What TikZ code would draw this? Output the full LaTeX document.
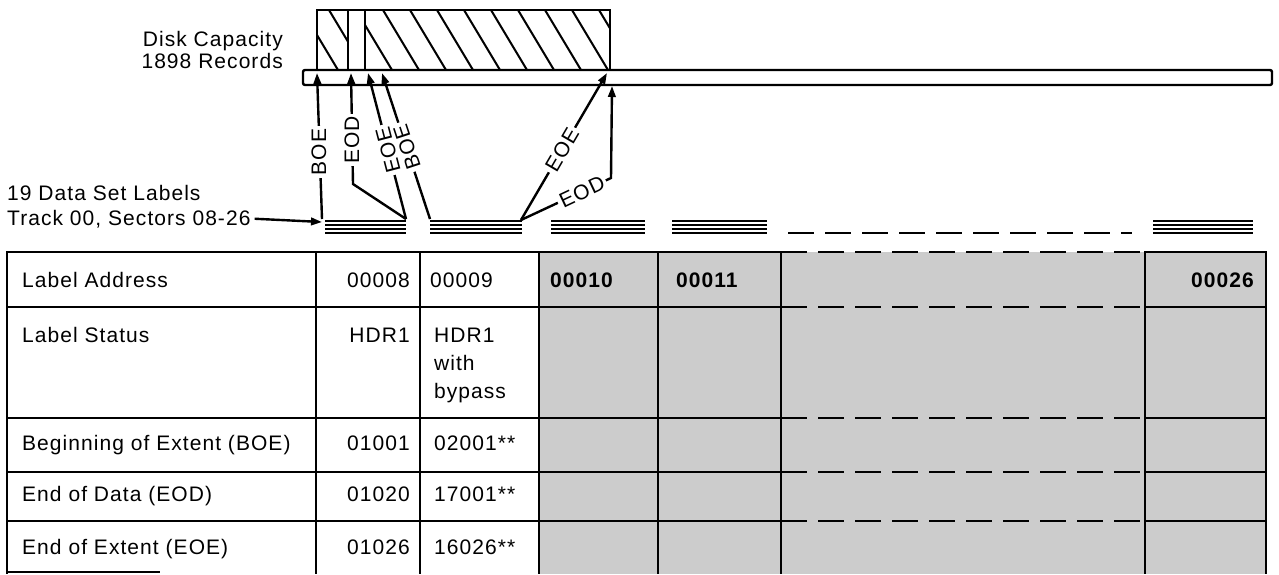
\documentclass[tikz,border=0pt]{standalone}
\usepackage{fontspec}
\setmainfont{Liberation Sans}
\newfontfamily\lab[LetterSpace=5]{Liberation Sans}
\usetikzlibrary{arrows.meta}
\begin{document}
\begin{tikzpicture}[x=1pt,y=-1pt,
  txt/.style={font=\lab\fontsize{21}{25}\selectfont, inner sep=0pt},
  btxt/.style={font=\lab\bfseries\fontsize{21}{25}\selectfont, inner sep=0pt},
  conn/.style={line width=2.4pt,-{Triangle[length=11pt,width=7.5pt]}},
  arrlbl/.style={font=\lab\fontsize{21}{25}\selectfont, fill=white, inner sep=2.5pt},
  stackline/.style={line width=1.8pt},
  tline/.style={line width=2pt},
  heavy/.style={line width=2.7pt},
  gapdash/.style={line width=2.3pt, dash pattern=on 26pt off 11pt},
]
\useasboundingbox (0,0) rectangle (1279,574);

% ---------- hatched capacity box ----------
\begin{scope}
  \clip (317,10) rectangle (348,70) (365,10) rectangle (610,70);
  \foreach \k in {-4,...,9} \draw[line width=2pt] ({383+27*\k},10) -- ({383+27*\k+36},70);
\end{scope}
\draw[line width=2.4pt] (317,70) -- (317,10) -- (610,10) -- (610,70);
\draw[line width=2.2pt] (348,10) -- (348,70) (365,10) -- (365,70);

% ---------- disk bar ----------
\draw[line width=2.4pt, rounded corners=2pt, fill=white] (303,70) rectangle (1272,85);

% ---------- label stacks ----------
\foreach \a/\b in {325/406, 430/522, 551/645, 672/767, 1153/1253} {
  \foreach \yy in {221,225,229,233} \draw[stackline] (\a,\yy) -- (\b,\yy);
}
\draw[gapdash] (788,233) -- (1132,233);

\coordinate (e1) at (322,219);
\coordinate (e2) at (406,219);
\coordinate (e3) at (430,219);
\coordinate (e4) at (521,220);
\coordinate (s1tip) at (322,222);
\coordinate (b1) at (317,73);
\coordinate (b2) at (351,73);
\coordinate (b3) at (368,73);
\coordinate (b4) at (382,73);
\coordinate (b5) at (607,73);
\coordinate (b6) at (612,86);
\coordinate (k1) at (353,184);
\coordinate (k2) at (611,178);

% ---------- texts at left ----------
\node[txt, anchor=base east] (disk) at (283,46) {Disk Capacity};
\node[txt, anchor=base east] (recs) at (283,68) {1898 Records};
\node[txt, anchor=base west] (dsl) at (7,200) {19 Data Set Labels};
\node[txt, anchor=base west] (trk) at (7,225) {Track 00, Sectors 08-26};

% ---------- connectors ----------
\draw[conn] ([xshift=4pt]trk.east) -- (s1tip);
\draw[conn] (e1) -- (b1);
\draw[conn] (e2) -- (k1) -- (b2);
\draw[conn] (e2) -- (b3);
\draw[conn] (e3) -- (b4);
\draw[conn] (e4) -- (b5);
\draw[conn] (e4) -- (k2) -- (b6);

\node[arrlbl, rotate=90] (lb1) at (319,152) {BOE};
\node[arrlbl, rotate=90] (lb2) at (352,140) {EOD};
\node[arrlbl, rotate=104.6] (lb3) at (388,150) {EOE};
\node[arrlbl, rotate=108.2] (lb4) at (407,147) {BOE};
\node[arrlbl, rotate=59.7] (lb5) at (562,150) {EOE};
\node[arrlbl, rotate=25.3] (lb6) at (582,192) {EOD};

% ---------- table ----------
\fill[black!20] (539,252) rectangle (1266,574);
\foreach \yy in {252,307,418,472,521} {
  \draw[tline] (7,\yy) -- (781,\yy);
  \draw[tline] (1145,\yy) -- (1266,\yy);
  \draw[gapdash] (781,\yy) -- (1145,\yy);
}
\draw[heavy] (7,251) -- (7,574);
\foreach \xx in {316,420,539,658} \draw[tline] (\xx,252) -- (\xx,574);
\foreach \xx in {781,1145,1266} \draw[heavy] (\xx,251) -- (\xx,574);
\draw[tline] (7,572) -- (160,572);

% row 1
\node[txt, anchor=base west] (r1a) at (22,287.5) {Label Address};
\node[txt, anchor=base east] (r1b) at (410,287.5) {00008};
\node[txt, anchor=base west] (r1c) at (430,287.5) {00009};
\node[btxt, anchor=base west] (r1d) at (550,287.5) {00010};
\node[btxt, anchor=base west] (r1e) at (676,287.5) {00011};
\node[btxt, anchor=base east] (r1f) at (1254,287.5) {00026};
% row 2
\node[txt, anchor=base west] (r2a) at (22,342.5) {Label Status};
\node[txt, anchor=base east] (r2b) at (410,342.5) {HDR1};
\node[txt, anchor=base west] (r2c) at (434,342.5) {HDR1};
\node[txt, anchor=base west] (r2d) at (434,370.5) {with};
\node[txt, anchor=base west] (r2e) at (434,398.5) {bypass};
% row 3
\node[txt, anchor=base west] (r3a) at (22,450) {Beginning of Extent (BOE)};
\node[txt, anchor=base east] (r3b) at (410,450) {01001};
\node[txt, anchor=base west] (r3c) at (434,450) {02001**};
% row 4
\node[txt, anchor=base west] (r4a) at (22,501.5) {End of Data (EOD)};
\node[txt, anchor=base east] (r4b) at (410,501.5) {01020};
\node[txt, anchor=base west] (r4c) at (434,501.5) {17001**};
% row 5
\node[txt, anchor=base west] (r5a) at (22,554.5) {End of Extent (EOE)};
\node[txt, anchor=base east] (r5b) at (410,554.5) {01026};
\node[txt, anchor=base west] (r5c) at (434,554.5) {16026**};
\end{tikzpicture}
\end{document}
